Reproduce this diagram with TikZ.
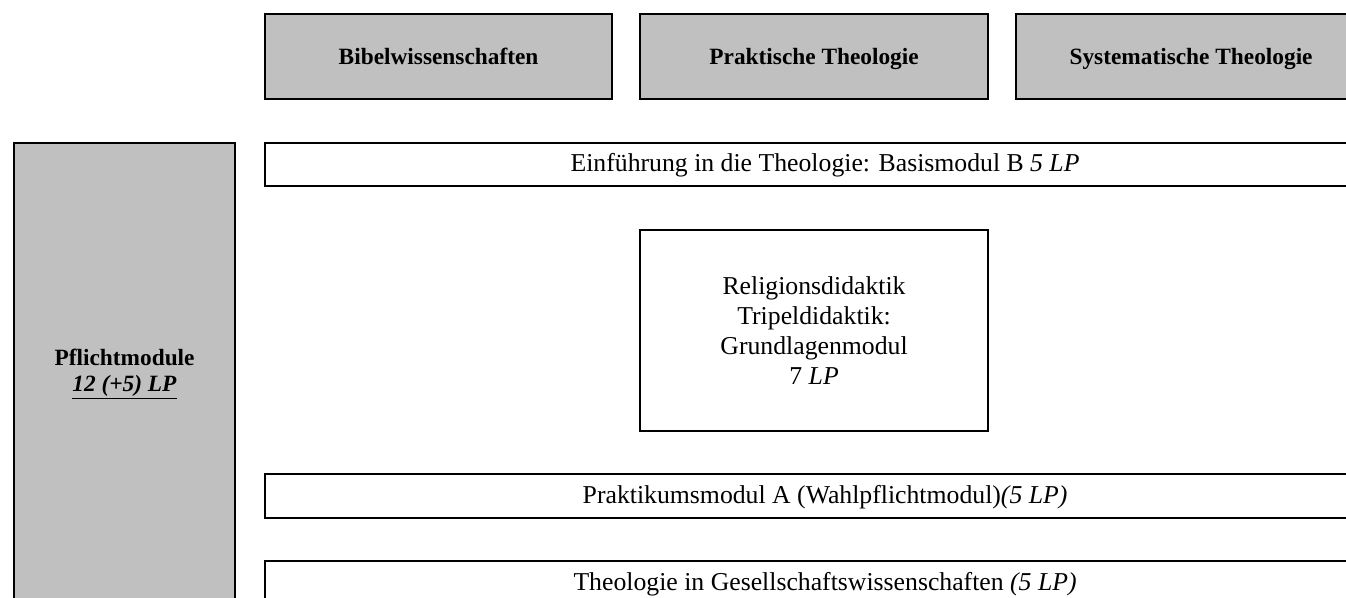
\documentclass[tikz,border=0pt]{standalone}
\usepackage{fontspec}
\setmainfont{Liberation Serif}
\begin{document}
\begin{tikzpicture}[x=0.75pt,y=-0.75pt,
  box/.style={draw=black,line width=1.6pt,inner sep=0pt,anchor=north west},
  greybox/.style={box,fill=boxgrey},
  headtext/.style={font=\fontsize{17.5}{21}\selectfont\bfseries,text height=12.5pt,text depth=0pt},
  bodytext/.style={font=\fontsize{19.3}{22.5}\selectfont},
  linetext/.style={bodytext,text height=12.5pt,text depth=2pt},
]
\definecolor{boxgrey}{RGB}{192,192,192}
\useasboundingbox (0,0) rectangle (1346,598);
\clip (0,0) rectangle (1346,598);
% left column
\node[greybox,minimum width=221*0.75pt,minimum height=462*0.75pt,font=\fontsize{17.5}{21}\selectfont\bfseries,align=center] (pflicht) at (13,142)
  {Pflichtmodule\\[-1pt]\underline{\textit{12 (+5) LP}}};
% top row
\node[greybox,minimum width=347*0.75pt,minimum height=85*0.75pt,headtext] (bibel) at (264,13) {Bibelwissenschaften};
\node[greybox,minimum width=348*0.75pt,minimum height=85*0.75pt,headtext] (prakt) at (639,13) {Praktische Theologie};
\node[greybox,minimum width=350*0.75pt,minimum height=85*0.75pt,headtext] (syst) at (1015,13) {Systematische Theologie};
% modules
\node[box,minimum width=1120*0.75pt,minimum height=43*0.75pt,linetext] (einf) at (264,142)
  {Einführung in die Theologie: Basismodul B \textit{5 LP}};
\node[box,minimum width=348*0.75pt,minimum height=201*0.75pt,bodytext,align=center] (reldid) at (639,229)
  {Religionsdidaktik\\Tripeldidaktik:\\Grundlagenmodul\\7 \textit{LP}};
\node[box,minimum width=1120*0.75pt,minimum height=44*0.75pt,linetext] (praktikum) at (264,473)
  {Praktikumsmodul A (Wahlpflichtmodul)\textit{(5 LP)}};
\node[box,minimum width=1120*0.75pt,minimum height=44*0.75pt,linetext] (gesell) at (264,560)
  {Theologie in Gesellschaftswissenschaften \textit{(5 LP)}};
\end{tikzpicture}
\end{document}
